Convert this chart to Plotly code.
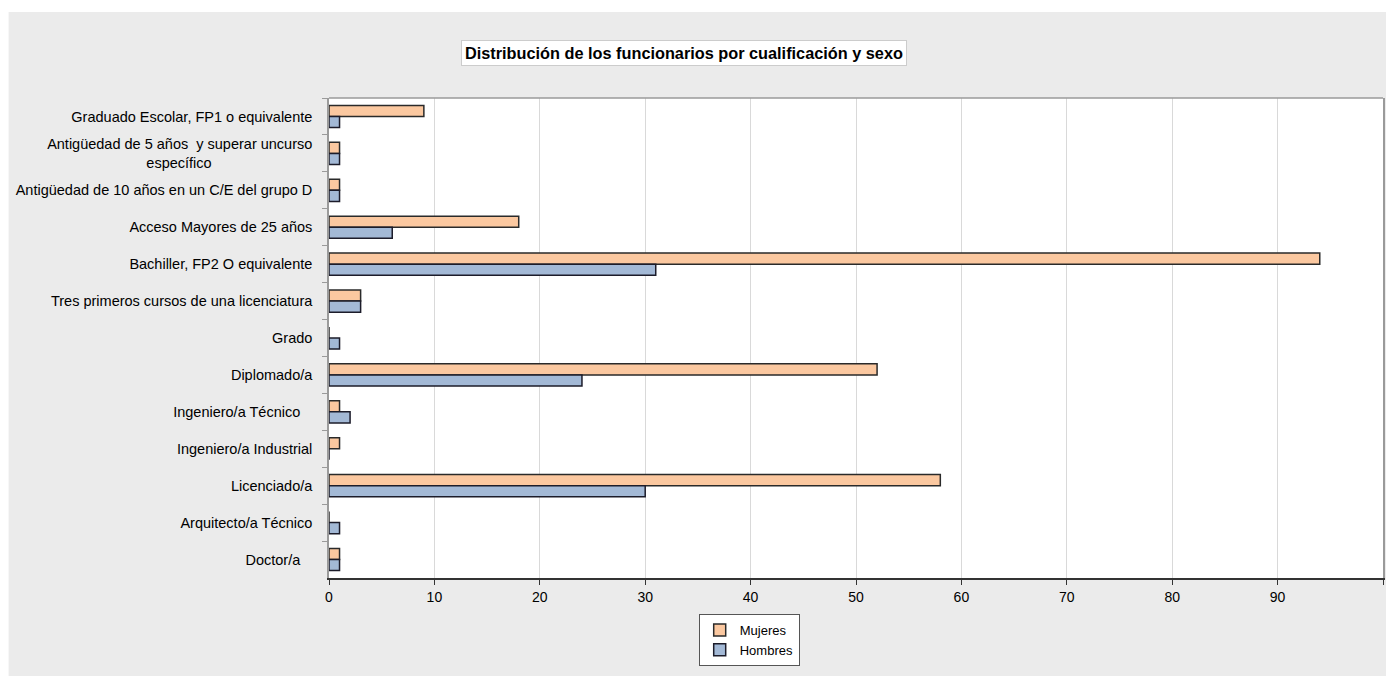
import plotly.graph_objects as go

NB = "\u00a0"
categories = [
    "Graduado Escolar, FP1 o equivalente",
    "Antigüedad de 5 años  y superar uncurso<br>específico" + NB * 25,
    "Antigüedad de 10 años en un C/E del grupo D",
    "Acceso Mayores de 25 años",
    "Bachiller, FP2 O equivalente",
    "Tres primeros cursos de una licenciatura",
    "Grado",
    "Diplomado/a",
    "Ingeniero/a Técnico" + NB * 3,
    "Ingeniero/a Industrial",
    "Licenciado/a",
    "Arquitecto/a Técnico",
    "Doctor/a" + NB * 3,
]
mujeres = [9, 1, 1, 18, 94, 3, 0, 52, 1, 1, 58, 0, 1]
hombres = [1, 1, 1, 6, 31, 3, 1, 24, 2, 0, 30, 1, 1]
x_ticks = [0, 10, 20, 30, 40, 50, 60, 70, 80, 90, 100]

OFF = 8  # page body margin
W, H = 1378, 668
L, T = 329 - OFF, 98 - OFF
R = W - (1385 - OFF)
B = H - (578 - OFF)
pw, ph = W - L - R, H - T - B


def px(xp):
    return (xp - OFF - L) / pw


def py(yp):
    return (T + ph - (yp - OFF)) / ph


fig = go.Figure()
fig.add_trace(go.Bar(
    y=categories, x=mujeres, orientation="h", name="Mujeres",
    marker=dict(color="#fbc8a0", line=dict(color="#2a2a2a", width=1.5)),
))
fig.add_trace(go.Bar(
    y=categories, x=hombres, orientation="h", name="Hombres",
    marker=dict(color="#a3b9d6", line=dict(color="#1c1c2a", width=1.5)),
))

shapes = [
    dict(type="rect", xref="paper", yref="paper", layer="below",
         x0=px(8), x1=px(1400), y0=py(690), y1=py(12),
         fillcolor="#ebebeb", line=dict(width=0)),
    dict(type="rect", xref="paper", yref="paper", layer="below",
         x0=0, x1=1, y0=0, y1=1, fillcolor="white", line=dict(width=0)),
    dict(type="line", xref="paper", yref="paper", layer="above",
         x0=0, x1=1, y0=1, y1=1, line=dict(color="#9a9a9a", width=1.5)),
]

fig.update_layout(
    width=W, height=H,
    margin=dict(l=L, r=R, t=T, b=B),
    paper_bgcolor="white",
    plot_bgcolor="white",
    barmode="group",
    bargap=0.4,
    bargroupgap=0,
    font=dict(family="Liberation Sans, Arial, sans-serif", size=13, color="black"),
    shapes=shapes,
    showlegend=True,
    legend=dict(
        x=px(750), y=py(640),
        xanchor="center", yanchor="middle",
        bgcolor="white", bordercolor="#555555", borderwidth=1,
        font=dict(size=13), traceorder="normal",
        itemwidth=30, tracegroupgap=0,
    ),
    annotations=[dict(
        text="<b>Distribución de los funcionarios por cualificación y sexo</b>",
        xref="paper", yref="paper",
        x=px(685), y=py(53),
        xanchor="center", yanchor="middle", showarrow=False,
        font=dict(size=16.3, color="black"),
        bgcolor="white", bordercolor="#cccccc", borderwidth=1, borderpad=3,
    )],
)

fig.update_xaxes(
    range=[0, 100], tickvals=x_ticks, ticktext=[str(v) for v in x_ticks],
    showgrid=True, gridcolor="#d9d9d9", gridwidth=1,
    showline=True, linecolor="#333333", linewidth=1.5,
    ticks="outside", ticklen=5, tickcolor="#333333",
    tickfont=dict(size=14), zeroline=False,
)
fig.update_yaxes(
    autorange="reversed", type="category",
    showline=True, linecolor="#9a9a9a", linewidth=1.5, mirror=True,
    ticks="outside", ticklen=5, tickcolor="#9a9a9a", tickson="boundaries",
    showgrid=False, tickfont=dict(size=14.5), ticklabelstandoff=12,
)

fig.write_html("out.html", config={"displayModeBar": False})
